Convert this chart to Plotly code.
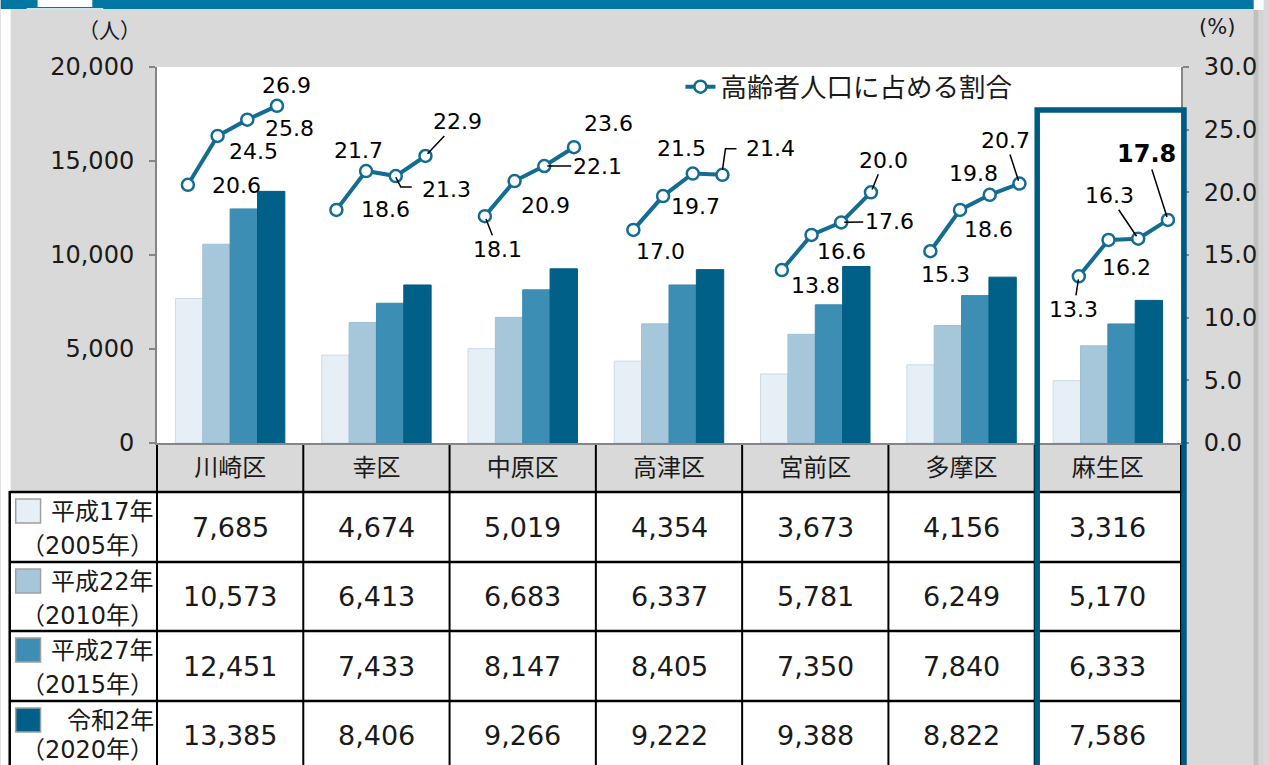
import plotly.graph_objects as go

# ---------------- data ----------------
districts = ["川崎区", "幸区", "中原区", "高津区", "宮前区", "多摩区", "麻生区"]
year_labels = ["平成17年", "平成22年", "平成27年", "令和2年"]
year_sub = ["（2005年）", "（2010年）", "（2015年）", "（2020年）"]

pop_2005 = [7685, 4674, 5019, 4354, 3673, 4156, 3316]
pop_2010 = [10573, 6413, 6683, 6337, 5781, 6249, 5170]
pop_2015 = [12451, 7433, 8147, 8405, 7350, 7840, 6333]
pop_2020 = [13385, 8406, 9266, 9222, 9388, 8822, 7586]

ratio_2005 = [20.6, 18.6, 18.1, 17.0, 13.8, 15.3, 13.3]
ratio_2010 = [24.5, 21.7, 20.9, 19.7, 16.6, 18.6, 16.2]
ratio_2015 = [25.8, 21.3, 22.1, 21.5, 17.6, 19.8, 16.3]
ratio_2020 = [26.9, 22.9, 23.6, 21.4, 20.0, 20.7, 17.8]

line_name = "高齢者人口に占める割合"
left_ticks = [0, 5000, 10000, 15000, 20000]
right_ticks = [0, 5, 10, 15, 20, 25, 30]
unit_left = "（人）"
unit_right = "(%)"

pops = [pop_2005, pop_2010, pop_2015, pop_2020]
ratios = [ratio_2005, ratio_2010, ratio_2015, ratio_2020]

# ---------------- styles ----------------
W, H = 1269, 765
L, R, T, B = 157, 1186, 67, 443
bar_colors = ["#e6eef6", "#a6c7da", "#3d8eb5", "#006087"]
bar_lines = ["#cddbe8", "#9fc1d6", "#3a89b0", "#005d83"]
line_color = "#136c92"
hl_color = "#005b80"
grey_axis = "#868686"
txt = "#1a1a1a"
JP = "Noto Sans CJK JP"
MIX = "DejaVu Sans, Noto Sans CJK JP"
NUM = "DejaVu Sans"


def px(x):
    return (x - L) / (R - L)


def py(y):
    return (B - y) / (B - T)


fig = go.Figure()

for i in range(4):
    fig.add_trace(go.Bar(
        x=districts, y=pops[i], name=year_labels[i] + year_sub[i],
        marker=dict(color=bar_colors[i], line=dict(color=bar_lines[i], width=1)),
        showlegend=False, xaxis="x", yaxis="y", hoverinfo="skip"))

# line: 5 slots per district (4 points + 1 gap)
lx, ly = [], []
for g in range(len(districts)):
    for k in range(4):
        lx.append(5 * g + k)
        ly.append(ratios[k][g])
    lx.append(5 * g + 4)
    ly.append(None)

fig.add_trace(go.Scatter(
    x=lx, y=ly, name=line_name, mode="lines+markers", connectgaps=False,
    line=dict(color=line_color, width=4),
    marker=dict(size=12, color="white", line=dict(color=line_color, width=2.5)),
    xaxis="x2", yaxis="y2", showlegend=True))

# label offsets (dx, dy, leader) ; leader: 0 none, 1 straight, 2 elbow path
offs = [
    [(49, 1, 0), (36, 16, 0), (42, 9, 0), (10, -20, 0)],
    [(49, 0, 0), (-8, -21, 0), (51, 13, 2), (32, -34, 1)],
    [(13, 33, 1), (31, 24, 0), (53, 0, 1), (35, -24, 0)],
    [(27, 22, 0), (32, 10, 0), (-11, -25, 0), (48, -26, 2)],
    [(34, 15, 0), (30, 17, 0), (48, -1, 1), (13, -32, 1)],
    [(15, 23, 0), (28, 20, 0), (-16, -21, 0), (-14, -43, 1)],
    [(-5, 33, 1), (18, 28, 0), (-29, -43, 1), (-21, -66, 1)],
]
elbow_paths = {(1, 2): "M0,-1 L5,-11 L16,-11", (3, 3): "M0,5 L3,26 L14,26"}

shapes = []
ann = []
for g in range(len(districts)):
    for k in range(4):
        dx, dy, lead = offs[g][k]
        v = ratios[k][g]
        bold = (g == len(districts) - 1 and k == 3)
        f = dict(family=NUM, size=24 if bold else 22, color="#000000")
        label = f"<b>{v:.1f}</b>" if bold else f"{v:.1f}"
        if lead == 1:
            ann.append(dict(x=5 * g + k, y=v, xref="x2", yref="y2", text=label,
                            showarrow=True, arrowhead=0, arrowwidth=1.5,
                            arrowcolor="#000000", ax=dx, ay=dy, standoff=3,
                            font=f))
        else:
            ann.append(dict(x=5 * g + k, y=v, xref="x2", yref="y2", text=label,
                            showarrow=False, xshift=dx, yshift=-dy, font=f,
                            xanchor="center", yanchor="middle"))
            if lead == 2:
                shapes.append(dict(type="path", xref="x2", yref="y2",
                                   xsizemode="pixel", ysizemode="pixel",
                                   xanchor=5 * g + k, yanchor=v,
                                   path=elbow_paths[(g, k)],
                                   line=dict(color="#000000", width=1.5),
                                   layer="above"))

# units
ann.append(dict(x=px(109), y=py(29), xref="paper", yref="paper", text=unit_left,
                showarrow=False, xanchor="center", yanchor="middle",
                font=dict(family=JP, size=21, color=txt)))
ann.append(dict(x=px(1222), y=py(27), xref="paper", yref="paper", text=unit_right,
                showarrow=False, xanchor="center", yanchor="middle",
                font=dict(family=NUM, size=21, color=txt)))

# ---------------- frame / table ----------------
shapes.append(dict(type="rect", xref="paper", yref="paper", x0=px(0), x1=px(10),
                   y0=py(0), y1=py(H), fillcolor="white", line_width=0, layer="below"))
shapes.append(dict(type="rect", xref="paper", yref="paper", x0=px(1259), x1=px(1264),
                   y0=py(10), y1=py(H), fillcolor="#c0c0c0", line_width=0, layer="below"))
shapes.append(dict(type="rect", xref="paper", yref="paper", x0=px(1264), x1=px(W),
                   y0=py(10), y1=py(H), fillcolor="#d4d4d4", line_width=0, layer="below"))
shapes.append(dict(type="rect", xref="paper", yref="paper", x0=px(1259), x1=px(W),
                   y0=py(0), y1=py(10), fillcolor="white", line_width=0, layer="below"))
shapes.append(dict(type="rect", xref="paper", yref="paper", x0=px(0), x1=px(1259),
                   y0=py(0), y1=py(9), fillcolor="#0076a3", line_width=0, layer="below"))
shapes.append(dict(type="rect", xref="paper", yref="paper", x0=px(26), x1=px(103),
                   y0=py(8), y1=py(10), fillcolor="#c6e6f2", line_width=0, layer="below"))
shapes.append(dict(type="rect", xref="paper", yref="paper", x0=px(37), x1=px(92),
                   y0=py(0), y1=py(7), fillcolor="white", line_width=0, layer="below"))

row_tops = [492, 562, 631, 701]
row_bot = 770
shapes.append(dict(type="rect", xref="paper", yref="paper", x0=px(9), x1=px(R),
                   y0=py(492), y1=py(row_bot), fillcolor="white", line_width=0, layer="below"))
col_w = (R - L) / len(districts)
for i in range(len(districts) + 1):
    xx = L + i * col_w
    shapes.append(dict(type="line", xref="paper", yref="paper", x0=px(xx), x1=px(xx),
                       y0=py(445), y1=py(row_bot), line=dict(color="#000000", width=2)))
for yt in row_tops:
    shapes.append(dict(type="line", xref="paper", yref="paper", x0=px(9), x1=px(R),
                       y0=py(yt), y1=py(yt), line=dict(color="#000000", width=2.5)))
shapes.append(dict(type="line", xref="paper", yref="paper", x0=px(9), x1=px(9),
                   y0=py(491), y1=py(row_bot), line=dict(color="#000000", width=2.5)))

line2_off = [54, 54, 54, 49]
for r in range(4):
    top = row_tops[r]
    shapes.append(dict(type="rect", xref="paper", yref="paper", x0=px(15), x1=px(40),
                       y0=py(top + 7), y1=py(top + 31), fillcolor=bar_colors[r],
                       line=dict(color="#a0a0a0", width=1.5)))
    ann.append(dict(x=px(156), y=py(top + 20), xref="paper", yref="paper",
                    text=year_labels[r], showarrow=False, xanchor="right",
                    yanchor="middle", font=dict(family=MIX, size=24, color=txt)))
    ann.append(dict(x=px(156), y=py(top + line2_off[r]), xref="paper", yref="paper",
                    text=year_sub[r], showarrow=False, xanchor="right",
                    yanchor="middle", font=dict(family=MIX, size=24, color=txt)))
    cy = (top + row_tops[r + 1]) / 2 if r < 3 else 735
    for g in range(len(districts)):
        ann.append(dict(x=districts[g], y=py(cy), xref="x", yref="paper",
                        text=f"{pops[r][g]:,}", showarrow=False,
                        xanchor="center", yanchor="middle",
                        font=dict(family=NUM, size=27, color=txt)))

# highlight box
shapes.append(dict(type="rect", xref="paper", yref="paper", x0=px(1041.5), x1=px(1189),
                   y0=py(110), y1=py(775), line=dict(color=hl_color, width=5.5),
                   fillcolor="rgba(0,0,0,0)", layer="above"))

fig.update_layout(
    width=W, height=H, autosize=False,
    margin=dict(l=L, r=W - R, t=T, b=H - B, pad=0),
    paper_bgcolor="#d9d9d9", plot_bgcolor="white",
    barmode="group", bargap=0.252, bargroupgap=0,
    font=dict(family=NUM, color=txt),
    xaxis=dict(type="category", categoryorder="array", categoryarray=districts,
               range=[-0.5, len(districts) - 0.5], showline=True, linecolor=grey_axis,
               linewidth=2, ticks="", showgrid=False, zeroline=False,
               tickfont=dict(family=JP, size=24, color=txt), ticklabelstandoff=2),
    yaxis=dict(range=[0, 20000], tickvals=left_ticks, tickformat=",d",
               showline=True, linecolor=grey_axis, linewidth=2, ticks="outside",
               ticklen=6, tickwidth=2, tickcolor=grey_axis, showgrid=False,
               zeroline=False, tickfont=dict(family=NUM, size=24, color=txt),
               ticklabelstandoff=10),
    xaxis2=dict(overlaying="x", anchor="y2", range=[-1.04, 33.44], visible=False),
    yaxis2=dict(overlaying="y", anchor="x", side="right", range=[0, 30],
                tickvals=right_ticks, tickformat=".1f", showline=True,
                linecolor=grey_axis, linewidth=2, ticks="outside", ticklen=6,
                tickwidth=2, tickcolor=grey_axis, showgrid=False, zeroline=False,
                tickfont=dict(family=NUM, size=24, color=txt), ticklabelstandoff=10),
    legend=dict(x=px(683), y=py(87), xanchor="left", yanchor="middle",
                bgcolor="rgba(0,0,0,0)", font=dict(family=JP, size=26.5, color=txt),
                itemsizing="trace"),
    shapes=shapes, annotations=ann,
)

fig.write_html("out.html", config={"displayModeBar": False},
               post_script="document.body.style.margin='0';document.body.style.overflow='hidden';")
